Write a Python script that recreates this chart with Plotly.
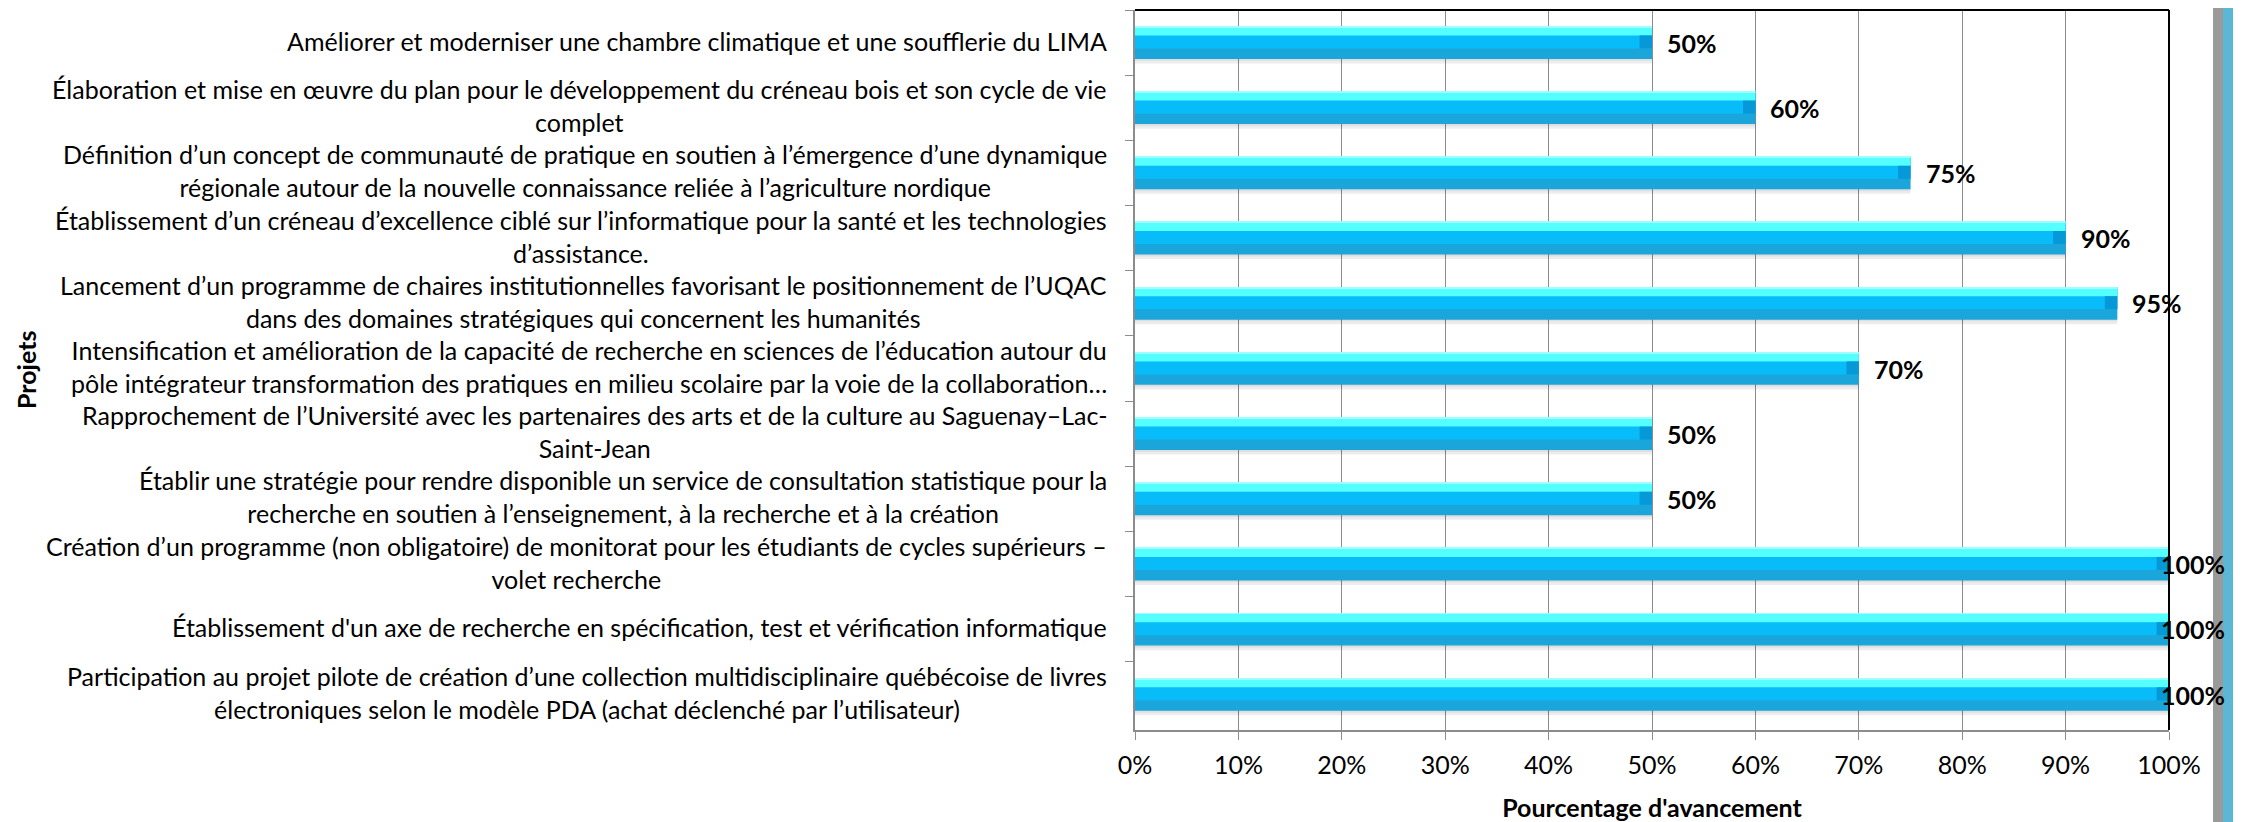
import plotly.graph_objects as go

projects = [
    "Améliorer et moderniser une chambre climatique et une soufflerie du LIMA",
    "Élaboration et mise en œuvre du plan pour le développement du créneau bois et son cycle de vie<br>complet",
    "Définition d’un concept de communauté de pratique en soutien à l’émergence d’une dynamique<br>régionale autour de la nouvelle connaissance reliée à l’agriculture nordique",
    "Établissement d’un créneau d’excellence ciblé sur l’informatique pour la santé et les technologies<br>d’assistance.",
    "Lancement d’un programme de chaires institutionnelles favorisant le positionnement de l’UQAC<br>dans des domaines stratégiques qui concernent les humanités",
    "Intensification et amélioration de la capacité de recherche en sciences de l’éducation autour du<br>pôle intégrateur transformation des pratiques en milieu scolaire par la voie de la collaboration…",
    "Rapprochement de l’Université avec les partenaires des arts et de la culture au Saguenay–Lac-<br>Saint-Jean",
    "Établir une stratégie pour rendre disponible un service de consultation statistique pour la<br>recherche en soutien à l’enseignement, à la recherche et à la création",
    "Création d’un programme (non obligatoire) de monitorat pour les étudiants de cycles supérieurs –<br>volet recherche",
    "Établissement d'un axe de recherche en spécification, test et vérification informatique",
    "Participation au projet pilote de création d’une collection multidisciplinaire québécoise de livres<br>électroniques selon le modèle PDA (achat déclenché par l’utilisateur)",
]
progress = [50, 60, 75, 90, 95, 70, 50, 50, 100, 100, 100]
x_tick_values = [0, 10, 20, 30, 40, 50, 60, 70, 80, 90, 100]
x_tick_labels = [f"{v}%" for v in x_tick_values]
x_title = "Pourcentage d'avancement"
y_title = "Projets"

FONT = "Lato"
# page has an 8px body margin, so the figure is sized to the remaining area
W, H = 2233, 814
ML, MR, MT, MB = 1127, 72, 2, 90
PW = W - ML - MR

fig = go.Figure()

def layer(color, offset, width, base=None, xvals=None):
    fig.add_trace(go.Bar(
        y=projects, x=xvals if xvals is not None else progress, base=base,
        orientation="h", marker=dict(color=color, line=dict(width=0)),
        offset=offset, width=width, hoverinfo="skip", showlegend=False,
    ))

# shadow, body bands, highlight, end cap
layer("rgba(0,0,0,0.07)", -0.2, 0.52)
layer("rgba(0,0,0,0.06)", -0.2, 0.48)
layer("#1BA6DB", -0.25, 0.5)
layer("#08BBF9", -0.25, 0.34)
layer("#55FFFF", -0.25, 0.14)
layer("#9EFFFF", -0.25, 0.015)
layer("#0698D7", -0.11, 0.2, base=[v - 1.2 for v in progress], xvals=[1.2] * len(progress))

annotations = []
for p, v in zip(projects, progress):
    annotations.append(dict(
        x=0, xref="x domain", y=p, yref="y", text=p, showarrow=False,
        xanchor="right", yanchor="middle", align="center", xshift=-26, yshift=2,
        font=dict(family=FONT, size=25, color="#000000"),
    ))
    annotations.append(dict(
        x=v, xref="x", y=p, yref="y", text=f"<b>{v}%</b>", showarrow=False,
        xanchor="left", yanchor="middle", xshift=(13 if v < 100 else -10),
        font=dict(family=FONT, size=25, color="#000000"),
    ))

def px_to_paper(px):
    return (px - ML) / PW

shapes = [
    dict(type="line", xref="x domain", yref="y domain", x0=0, x1=1, y0=1, y1=1,
         line=dict(color="#000000", width=2), layer="above"),
    dict(type="line", xref="x domain", yref="y domain", x0=1, x1=1, y0=0, y1=1,
         line=dict(color="#000000", width=2), layer="above"),
    dict(type="rect", xref="paper", yref="paper", x0=px_to_paper(2205), x1=px_to_paper(2215),
         y0=-0.2, y1=1.1, fillcolor="#9A9A9A", line=dict(width=0)),
    dict(type="rect", xref="paper", yref="paper", x0=px_to_paper(2215), x1=px_to_paper(2227),
         y0=-0.2, y1=1.1, fillcolor="#5BB8D4", line=dict(width=0)),
]

fig.update_layout(
    width=W, height=H,
    margin=dict(l=ML, r=MR, t=MT, b=MB),
    paper_bgcolor="white", plot_bgcolor="white",
    barmode="overlay",
    font=dict(family=FONT, size=25, color="#000000"),
    annotations=annotations, shapes=shapes,
    xaxis=dict(
        range=[0, 100], tickvals=x_tick_values, ticktext=x_tick_labels,
        showgrid=True, gridcolor="#8C8C8C", gridwidth=1.3,
        showline=True, linecolor="#8C8C8C", linewidth=1.5,
        ticks="outside", ticklen=8, tickcolor="#8C8C8C",
        ticklabelstandoff=4,
        tickfont=dict(family=FONT, size=25, color="#000000"),
        zeroline=False,
        title=dict(text=f"<b>{x_title}</b>", standoff=24,
                   font=dict(family=FONT, size=25, color="#000000")),
    ),
    yaxis=dict(
        categoryorder="array", categoryarray=projects, autorange="reversed",
        showticklabels=False, showgrid=False,
        showline=True, linecolor="#8C8C8C", linewidth=1.5,
        ticks="outside", ticklen=8, tickcolor="#8C8C8C", tickson="boundaries",
        zeroline=False,
    ),
)

fig.add_annotation(
    x=0, xref="paper", xanchor="left", xshift=-ML + 1, y=0.5, yref="paper",
    text=f"<b>{y_title}</b>", textangle=-90, showarrow=False,
    font=dict(family=FONT, size=25, color="#000000"),
)

fig.write_html("out.html")
